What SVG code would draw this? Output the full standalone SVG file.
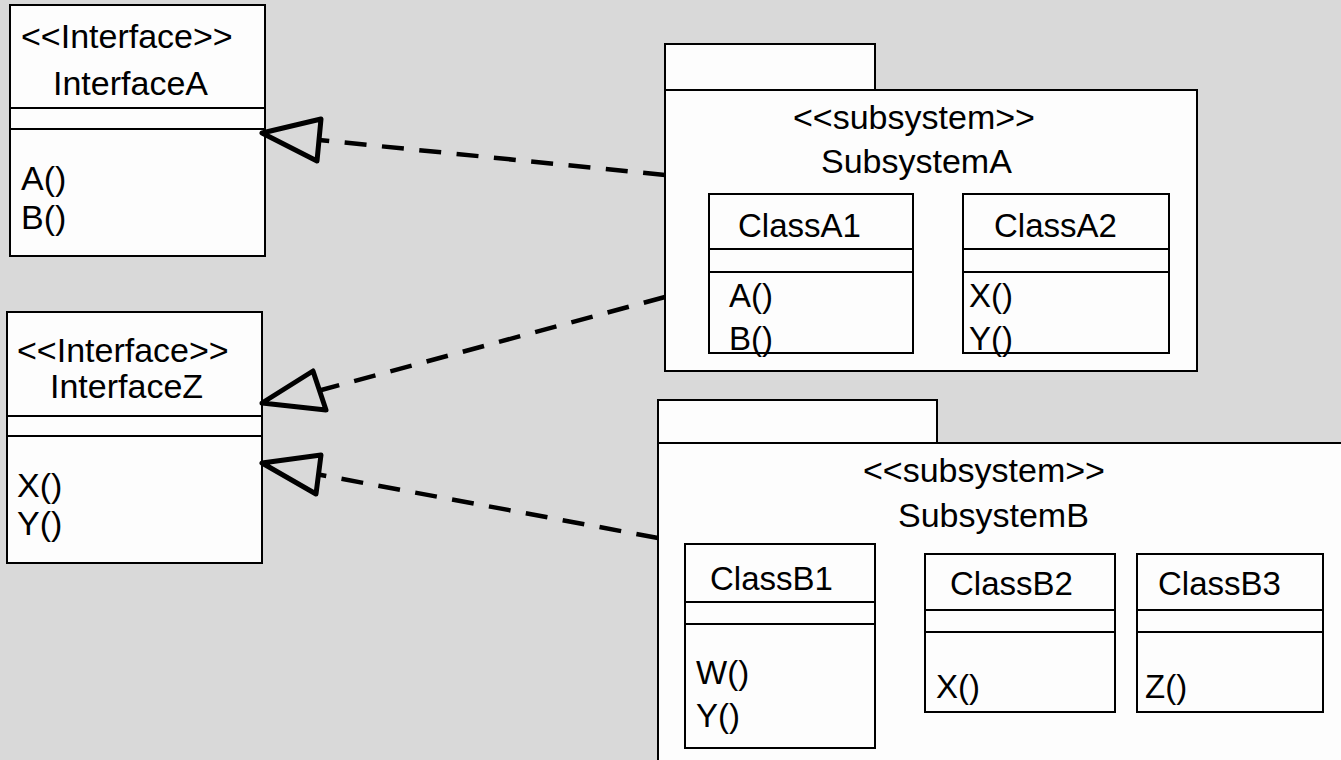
<svg xmlns="http://www.w3.org/2000/svg" width="1341" height="760" viewBox="0 0 1341 760">
  <style>
    .box { fill: #fdfdfd; stroke: #000; stroke-width: 2; }
    .sep { stroke: #000; stroke-width: 2; }
    text { font-family: "Liberation Sans", Arial, sans-serif; font-size: 34px; fill: #000; }
    .cls text { font-size: 33px; }
    .dep { fill: none; stroke: #000; stroke-width: 4.5; stroke-dasharray: 22 15.5; }
    .head { fill: none; stroke: #000; stroke-width: 5; stroke-linejoin: round; }
  </style>
  <rect width="1341" height="760" fill="#d9d9d9"/>

  <!-- Interfaces -->
  <g id="interfaceA">
    <rect class="box" x="10" y="5" width="255" height="251"/>
    <line class="sep" x1="10" y1="108" x2="265" y2="108"/>
    <line class="sep" x1="10" y1="129" x2="265" y2="129"/>
    <text x="21" y="48">&lt;&lt;Interface&gt;&gt;</text>
    <text x="53" y="95">InterfaceA</text>
    <text x="21" y="190">A()</text>
    <text x="21" y="229">B()</text>
  </g>

  <g id="interfaceZ">
    <rect class="box" x="7" y="312" width="255" height="251"/>
    <line class="sep" x1="7" y1="416" x2="262" y2="416"/>
    <line class="sep" x1="7" y1="436" x2="262" y2="436"/>
    <text x="17" y="362">&lt;&lt;Interface&gt;&gt;</text>
    <text x="50" y="398">InterfaceZ</text>
    <text x="17" y="497">X()</text>
    <text x="17" y="535">Y()</text>
  </g>

  <!-- Subsystem A package -->
  <g id="subsystemA">
    <rect class="box" x="665" y="44" width="210" height="46"/>
    <rect class="box" x="665" y="90" width="532" height="281"/>
    <text x="793" y="129">&lt;&lt;subsystem&gt;&gt;</text>
    <text x="821" y="173">SubsystemA</text>
  </g>

  <g id="classA1" class="cls">
    <rect class="box" x="709" y="194" width="204" height="159"/>
    <line class="sep" x1="709" y1="249" x2="913" y2="249"/>
    <line class="sep" x1="709" y1="272" x2="913" y2="272"/>
    <text x="738" y="237">ClassA1</text>
    <text x="729" y="307">A()</text>
    <text x="729" y="350">B()</text>
  </g>

  <g id="classA2" class="cls">
    <rect class="box" x="963" y="194" width="206" height="159"/>
    <line class="sep" x1="963" y1="249" x2="1169" y2="249"/>
    <line class="sep" x1="963" y1="272" x2="1169" y2="272"/>
    <text x="994" y="237">ClassA2</text>
    <text x="969" y="307">X()</text>
    <text x="969" y="350">Y()</text>
  </g>

  <!-- Subsystem B package -->
  <g id="subsystemB">
    <rect class="box" x="658" y="400" width="279" height="43"/>
    <rect class="box" x="658" y="443" width="720" height="340"/>
    <text x="863" y="482">&lt;&lt;subsystem&gt;&gt;</text>
    <text x="898" y="527">SubsystemB</text>
  </g>

  <g id="classB1" class="cls">
    <rect class="box" x="685" y="544" width="190" height="204"/>
    <line class="sep" x1="685" y1="602" x2="875" y2="602"/>
    <line class="sep" x1="685" y1="624" x2="875" y2="624"/>
    <text x="710" y="590">ClassB1</text>
    <text x="696" y="684">W()</text>
    <text x="696" y="727">Y()</text>
  </g>

  <g id="classB2" class="cls">
    <rect class="box" x="925" y="554" width="190" height="158"/>
    <line class="sep" x1="925" y1="610" x2="1115" y2="610"/>
    <line class="sep" x1="925" y1="632" x2="1115" y2="632"/>
    <text x="950" y="595">ClassB2</text>
    <text x="936" y="698">X()</text>
  </g>

  <g id="classB3" class="cls">
    <rect class="box" x="1137" y="554" width="186" height="158"/>
    <line class="sep" x1="1137" y1="610" x2="1323" y2="610"/>
    <line class="sep" x1="1137" y1="632" x2="1323" y2="632"/>
    <text x="1158" y="595">ClassB3</text>
    <text x="1145" y="698">Z()</text>
  </g>

  <!-- Realization connectors: dashed line + hollow triangle head -->
  <g id="connectors">
    <line class="dep" x1="665" y1="175" x2="319" y2="140"/>
    <polygon class="head" points="262,133 321,119 317,161"/>

    <line class="dep" x1="665" y1="297" x2="319.5" y2="390.5"/>
    <polygon class="head" points="262,403 313,371 326,410"/>

    <line class="dep" x1="658" y1="538" x2="318.5" y2="474.5"/>
    <polygon class="head" points="262,463 321,455 316,494"/>
  </g>
</svg>
